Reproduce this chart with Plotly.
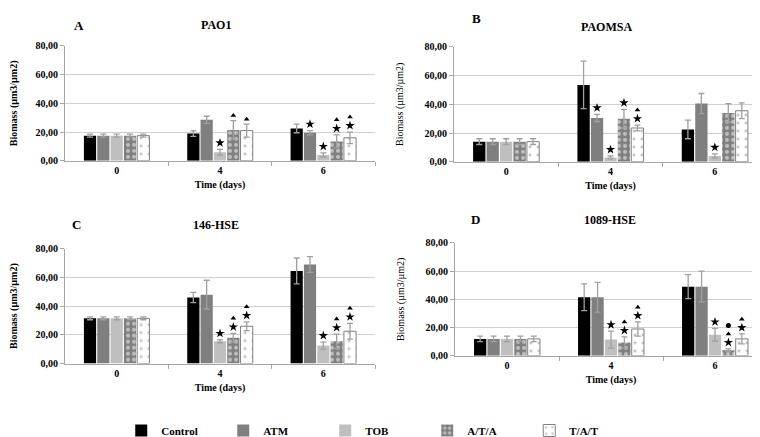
import plotly.graph_objects as go

# ---------------- data ----------------
days = ["0", "4", "6"]
treatments = ["Control", "ATM", "TOB", "A/T/A", "T/A/T"]
panel_letters = ["A", "B", "C", "D"]
panel_titles = ["PAO1", "PAOMSA", "146-HSE", "1089-HSE"]
y_ticks = [0, 20, 40, 60, 80]
y_tick_text = ["0,00", "20,00", "40,00", "60,00", "80,00"]

# means: one row per treatment (Control, ATM, TOB, A/T/A, T/A/T), columns = days 0, 4, 6
pao1_mean = [[17.5, 19.0, 22.5], [17.5, 28.5, 19.5], [17.5, 6.0, 4.0], [17.5, 21.5, 13.5], [17.5, 21.0, 16.0]]
pao1_err = [[1.0, 2.0, 3.0], [1.0, 2.5, 1.5], [1.0, 2.0, 1.5], [1.0, 6.5, 4.5], [1.0, 4.5, 4.0]]

paomsa_mean = [[14.0, 53.5, 22.5], [14.0, 30.5, 40.5], [14.0, 3.0, 4.0], [14.0, 30.0, 34.0], [14.0, 23.5, 35.5]]
paomsa_err = [[2.0, 16.5, 6.5], [2.0, 2.5, 7.0], [2.0, 1.0, 1.5], [2.0, 6.5, 6.5], [2.0, 2.0, 5.5]]

hse146_mean = [[31.5, 46.0, 64.5], [31.5, 48.0, 69.0], [31.5, 15.5, 12.5], [31.5, 18.0, 15.5], [31.5, 26.0, 22.5]]
hse146_err = [[1.0, 3.5, 9.0], [1.0, 10.0, 5.5], [1.0, 1.0, 2.5], [1.0, 3.0, 5.0], [1.0, 3.0, 5.5]]

hse1089_mean = [[12.0, 41.5, 49.0], [12.0, 41.5, 49.0], [12.0, 11.5, 15.0], [12.0, 9.5, 4.0], [12.0, 19.0, 12.0]]
hse1089_err = [[2.0, 9.5, 8.5], [2.0, 10.5, 11.0], [2.0, 6.0, 4.5], [2.0, 4.0, 1.0], [2.0, 5.0, 3.5]]

# significance marks: (day index, treatment index, symbols bottom->top) s=star, t=triangle, c=circle
pao1_sig = [(1, 2, "s"), (1, 3, "t"), (1, 4, "t"), (2, 1, "s"), (2, 2, "s"), (2, 3, "st"), (2, 4, "st")]
paomsa_sig = [(1, 1, "s"), (1, 2, "s"), (1, 3, "s"), (1, 4, "st"), (2, 2, "s")]
hse146_sig = [(1, 2, "s"), (1, 3, "st"), (1, 4, "st"), (2, 2, "s"), (2, 3, "st"), (2, 4, "st")]
hse1089_sig = [(1, 2, "s"), (1, 3, "st"), (1, 4, "st"), (2, 2, "s"), (2, 3, "stc"), (2, 4, "st")]

means = [pao1_mean, paomsa_mean, hse146_mean, hse1089_mean]
errs = [pao1_err, paomsa_err, hse146_err, hse1089_err]
sigs = [pao1_sig, paomsa_sig, hse146_sig, hse1089_sig]

# ---------------- styling ----------------
W, H = 760, 437
SERIF = "Liberation Serif"
GRID = "#cfcfcf"
AXIS = "#a6a6a6"
ERR = "#a0a0a0"

bar_styles = [
    dict(color="#000000", line=dict(width=0)),
    dict(color="#7f7f7f", line=dict(width=0)),
    dict(color="#bfbfbf", line=dict(width=0)),
    dict(color="#7f7f7f", line=dict(width=0),
         pattern=dict(shape=".", fgcolor="#ffffff", bgcolor="#7f7f7f", size=6, solidity=0.35)),
    dict(color="#ffffff", line=dict(width=1, color="#7f7f7f"),
         pattern=dict(shape=".", fgcolor="#8a8a8a", bgcolor="#ffffff", size=8, solidity=0.12)),
]

# panel plot areas in pixels: (x0, x1, ytop, ybottom)
boxes = [(57, 367, 33, 152), (446, 759, 34, 153), (57, 367, 243, 362), (447, 759, 237, 354)]
title_pos = [((71, 12), (208, 11)), ((468, 5), (598, 13)), ((68, 218), (208, 218)), ((467, 213), (602, 213))]
ytitle_bold = [True, False, True, False]

SPACING = 0.129
BW = 0.118

fig = go.Figure()
layout = dict(
    width=W, height=H, margin=dict(l=0, r=0, t=0, b=0),
    plot_bgcolor="white", paper_bgcolor="white", barmode="overlay",
    font=dict(family=SERIF, size=10, color="#000000"),
    showlegend=True,
    legend=dict(orientation="h", x=0.149, xanchor="left", y=0.012, yanchor="middle",
                font=dict(family=SERIF, size=11, color="#000000", weight="bold"),
                entrywidth=57, entrywidthmode="pixels", traceorder="normal",
                itemclick=False, itemdoubleclick=False),
)
annotations = []

sym_map = {"s": ("star", 7), "t": ("triangle-up", 5), "c": ("circle", 5)}

for p in range(4):
    sfx = "" if p == 0 else str(p + 1)
    xa, ya = "x" + sfx, "y" + sfx
    x0, x1, yt, yb = boxes[p]
    layout["xaxis" + sfx] = dict(
        domain=[x0 / W, x1 / W], anchor=ya, range=[-0.5, 2.5],
        tickvals=[0, 1, 2], ticktext=days, ticks="", showgrid=False, zeroline=False,
        showline=True, linecolor=AXIS, linewidth=1,
        tickfont=dict(family=SERIF, size=10, weight="bold"),
        minor=dict(tickvals=[0.5, 1.5, 2.5], ticks="outside", ticklen=4, tickcolor=AXIS, showgrid=False),
        title=dict(text="Time (days)", standoff=6, font=dict(family=SERIF, size=10, weight="bold")),
        fixedrange=True,
    )
    layout["yaxis" + sfx] = dict(
        domain=[1 - yb / H, 1 - yt / H], anchor=xa, range=[0, 80],
        tickvals=y_ticks, ticktext=y_tick_text, ticks="outside", ticklen=4, tickcolor=AXIS,
        showgrid=True, gridcolor=GRID, gridwidth=1, zeroline=False,
        showline=True, linecolor=AXIS, linewidth=1,
        tickfont=dict(family=SERIF, size=10, weight="bold"),
        title=dict(text="Biomass (µm3/µm2)", standoff=18,
                   font=dict(family=SERIF, size=10, weight="bold" if ytitle_bold[p] else "normal")),
        fixedrange=True,
    )
    for t in range(5):
        xs = [d + (t - 2) * SPACING for d in range(len(days))]
        fig.add_trace(go.Bar(
            x=xs, y=means[p][t], width=BW, name=treatments[t],
            marker=bar_styles[t], legendgroup=treatments[t], showlegend=(p == 0),
            error_y=dict(type="data", array=errs[p][t], color=ERR, thickness=1.3, width=3),
            xaxis=xa, yaxis=ya, hoverinfo="skip",
        ))
    # significance symbols
    pts = {"s": ([], []), "t": ([], []), "c": ([], [])}
    for d, t, syms in sigs[p]:
        top = means[p][t][d] + errs[p][t][d]
        xpos = d + (t - 2) * SPACING
        for k, s in enumerate(syms):
            off = (4.5 if syms[0] == "s" else 3.5) + 6.0 * k
            pts[s][0].append(xpos)
            pts[s][1].append(top + off)
    for s, (xs, ys) in pts.items():
        if xs:
            sym, size = sym_map[s]
            fig.add_trace(go.Scatter(
                x=xs, y=ys, mode="markers", showlegend=False, hoverinfo="skip",
                marker=dict(symbol=sym, size=size, color="#000000", line=dict(width=0)),
                xaxis=xa, yaxis=ya, cliponaxis=False,
            ))
    (lx, ly), (tx, ty) = title_pos[p]
    annotations.append(dict(text=panel_letters[p], x=lx / W, y=1 - ly / H, xref="paper", yref="paper",
                            showarrow=False, xanchor="center", yanchor="middle",
                            font=dict(family=SERIF, size=13, weight="bold")))
    annotations.append(dict(text=panel_titles[p], x=tx / W, y=1 - ty / H, xref="paper", yref="paper",
                            showarrow=False, xanchor="center", yanchor="middle",
                            font=dict(family=SERIF, size=12, weight="bold")))

layout["annotations"] = annotations
fig.update_layout(**layout)
fig.write_html("out.html")
